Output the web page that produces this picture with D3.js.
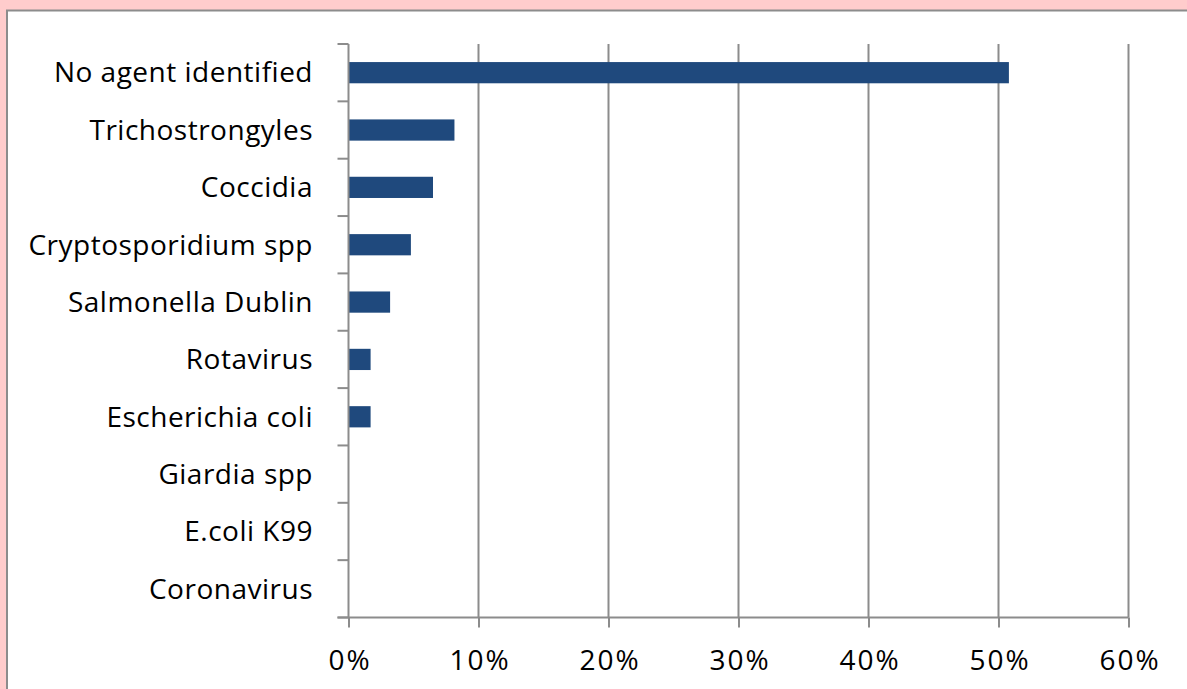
<!DOCTYPE html>
<html>
<head>
<meta charset="utf-8">
<script src="https://cdn.jsdelivr.net/npm/d3@7"></script>
<style>
  html, body { margin: 0; padding: 0; background: #ffcccc; }
  svg { display: block; }
  text { font-family: "Open Sans", "Noto Sans", sans-serif; fill: #000; }
</style>
</head>
<body>
<svg width="1187" height="689"></svg>
<script>
// Chart data
var categories = ["No agent identified", "Trichostrongyles", "Coccidia", "Cryptosporidium spp",
    "Salmonella Dublin", "Rotavirus", "Escherichia coli", "Giardia spp", "E.coli K99", "Coronavirus"];
var values = [0.508, 0.0815, 0.065, 0.048, 0.032, 0.017, 0.017, 0, 0, 0];
var tickValues = [0, 0.1, 0.2, 0.3, 0.4, 0.5, 0.6];

var svg = d3.select("svg"),
    width = +svg.attr("width"),
    height = +svg.attr("height");

// white chart area
svg.append("rect")
    .attr("x", 7)
    .attr("y", 10.5)
    .attr("width", width)
    .attr("height", height)
    .attr("fill", "#fff")
    .attr("stroke", "#8c8c8c")
    .attr("stroke-width", 2);

var x = d3.scaleLinear()
    .domain([0, 0.6])
    .range([348.5, 1128.5]);

var y = d3.scaleBand()
    .domain(categories)
    .range([44, 617.5])
    .paddingInner(0.63)
    .paddingOuter(0.315);

var gridColor = "#8c8c8c";

// vertical gridlines
svg.append("g")
    .selectAll("line")
    .data(tickValues.slice(1))
    .enter().append("line")
    .attr("x1", (d) => x(d))
    .attr("x2", (d) => x(d))
    .attr("y1", 44)
    .attr("y2", 617.5)
    .attr("stroke", gridColor)
    .attr("stroke-width", 2);

// bars
svg.append("g")
    .selectAll("rect")
    .data(categories)
    .enter().append("rect")
    .attr("x", x(0))
    .attr("y", (d) => y(d))
    .attr("width", (d, i) => x(values[i]) - x(0))
    .attr("height", y.bandwidth())
    .attr("fill", "#1f497d");

// x axis
var xAxis = svg.append("g")
    .attr("transform", "translate(0,617.5)")
    .call(d3.axisBottom(x)
        .tickValues(tickValues)
        .tickSize(10)
        .tickPadding(23)
        .tickFormat(d3.format(".0%")));
xAxis.select(".domain")
    .attr("d", "M" + (x(0) - 11) + ",0H" + x(0.6))
    .attr("stroke", gridColor)
    .attr("stroke-width", 2);
xAxis.selectAll(".tick line").attr("stroke", gridColor).attr("stroke-width", 2);
xAxis.selectAll("text")
    .attr("dx", "1px")
    .style("font-size", "28px")
    .style("letter-spacing", "2px")
    .style("font-family", "'Open Sans', sans-serif");

// y axis: category boundary ticks
var bounds = d3.range(categories.length + 1).map((i) => 44 + i * (617.5 - 44) / categories.length);
var yAxis = svg.append("g");
yAxis.append("line")
    .attr("x1", x(0)).attr("x2", x(0))
    .attr("y1", 44).attr("y2", 617.5)
    .attr("stroke", gridColor)
    .attr("stroke-width", 2);
yAxis.selectAll(".yt")
    .data(bounds)
    .enter().append("line")
    .attr("class", "yt")
    .attr("x1", x(0) - 11).attr("x2", x(0))
    .attr("y1", (d) => d).attr("y2", (d) => d)
    .attr("stroke", gridColor)
    .attr("stroke-width", 2);
yAxis.selectAll("text")
    .data(categories)
    .enter().append("text")
    .attr("x", 313)
    .attr("y", (d) => y(d) + y.bandwidth() / 2)
    .attr("dy", "0.35em")
    .attr("text-anchor", "end")
    .style("font-size", "28px")
    .style("letter-spacing", "0.5px")
    .text((d) => d);
</script>
</body>
</html>
